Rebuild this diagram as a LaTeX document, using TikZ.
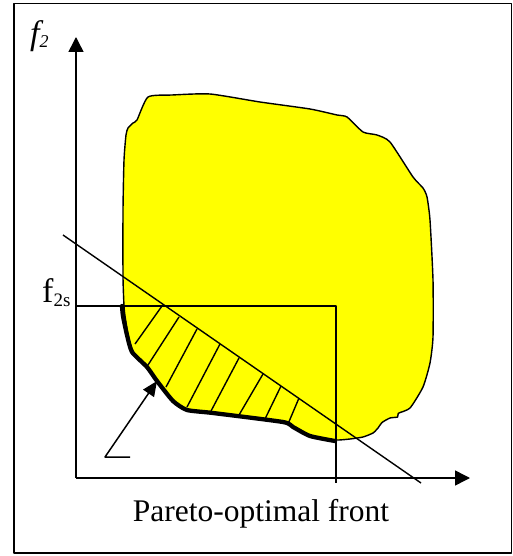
\documentclass[tikz,border=0pt]{standalone}
\usepackage{fontspec}
\setmainfont{Liberation Serif}
\usetikzlibrary{arrows.meta}
\definecolor{blobyellow}{RGB}{255,255,0}
\begin{document}
\begin{tikzpicture}[x=1pt,y=-1pt,line join=round,
  frame/.style={line width=1.4pt},
  thin line/.style={line width=1.4pt},
  axisline/.style={line width=1.5pt,-{Triangle[length=15pt,width=15pt]}},
  pointer/.style={line width=1.5pt,-{Triangle[length=15pt,width=13pt]}},
  hatch/.style={line width=1.4pt},
  front/.style={line width=4.3pt,line cap=round},
  blob/.style={fill=blobyellow,draw=black,line width=1.4pt}]
\useasboundingbox (0,0) rectangle (513,556);
% frame
\draw[frame] (14,3.5) rectangle (511.5,553);
% feasible region
\draw[blob] plot[smooth cycle,tension=0.35] coordinates {
 (148,97) (172,95) (210,94) (260,102) (310,109) (337,115) (347,117)
 (363,132) (377,135) (390,142) (413,177) (423,188) (427,197) (430,220)
 (433,280) (433,337) (430,363) (423,387) (410,408) (398.3,413.3) (397.7,417)
 (390,418) (382,422.5) (378,428) (373,433) (363,437) (350,439) (335,440)
 (310,436) (293,427) (283,422) (213,413) (187,410) (173,401) (157,381)
 (147,367) (135,355) (129,340) (125,316) (124,306) (123,277) (123,210)
 (124,160) (126,135) (128,128) (133,123) (137,120)};
% hatching
\draw[hatch] (135,344) -- (162,306);
\draw[hatch] (148,365) -- (179,317);
\draw[hatch] (166,387) -- (197,329);
\draw[hatch] (187,407) -- (220,344);
\draw[hatch] (211,411) -- (239,358);
\draw[hatch] (239,415) -- (263,374);
\draw[hatch] (265,419) -- (281,386);
\draw[hatch] (288,424) -- (299,398);
% Pareto front (thick)
\draw[front] plot[smooth,tension=0.35] coordinates {
 (122,306) (123,316) (127,335) (132,352) (147,367) (157,381) (173,401)
 (187,410) (213,413) (283,422) (293,427) (310,436) (335,441)};
% coordinates
\coordinate (O) at (76,478);
\coordinate (Ytip) at (76,37);
\coordinate (Xtip) at (470,478);
\coordinate (F2s) at (76,306);
\coordinate (Corner) at (336,306);
\coordinate (Cbot) at (336,483);
\coordinate (D1) at (63,235);
\coordinate (D2) at (421,483);
\coordinate (Tail) at (130,457);
\coordinate (Elbow) at (105,457);
\coordinate (Tip) at (157,381);
% lines
\draw[thin line] (D1) -- (D2);
\draw[thin line] (F2s) -- (Corner) -- (Cbot);
\draw[axisline] (O) -- (Ytip);
\draw[axisline] (O) -- (Xtip);
\draw[pointer] (Tail) -- (Elbow) -- (Tip);
% labels
\node[anchor=base west,inner sep=0pt] (f2) at (30,45)
  {\fontsize{34}{34}\selectfont\itshape f\raisebox{-3pt}{\fontsize{18}{18}\selectfont 2}};
\node[anchor=base west,inner sep=0pt] (f2slabel) at (42,302)
  {\fontsize{34}{34}\selectfont f\raisebox{-4pt}{\fontsize{19}{19}\selectfont 2s}};
\node[anchor=base,inner sep=0pt] (pf) at (261,521)
  {\fontsize{31.5}{31.5}\selectfont Pareto-optimal front};
\end{tikzpicture}
\end{document}
